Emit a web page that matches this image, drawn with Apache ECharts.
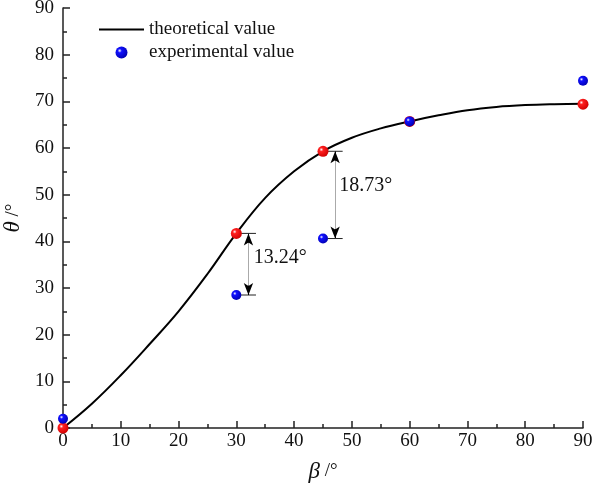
<!DOCTYPE html>
<html>
<head>
<meta charset="utf-8">
<script src="https://cdn.jsdelivr.net/npm/echarts@6/dist/echarts.min.js"></script>
<style>
  html, body { margin: 0; padding: 0; background: #fff; }
  #chart { width: 593px; height: 490px; }
</style>
</head>
<body>
<div id="chart"></div>
<script>
// theoretical curve (beta, theta)
const curveBeta  = [0, 5, 10, 15, 20, 25, 30, 35, 40, 45, 50, 55, 60, 65, 70, 75, 80, 85, 90]
const curveTheta = [0, 5.2, 11.3, 18.0, 25.0, 33.0, 41.7, 49.3, 55.0, 59.3, 62.2, 64.2, 65.7, 67.0, 68.1, 68.8, 69.2, 69.4, 69.5]
// theoretical points at the test angles
const testBeta = [0, 30, 45, 60, 90]
const theoryTheta = [0, 41.7, 59.3, 65.7, 69.4]
// measured
const expTheta = [2.0, 28.5, 40.6, 65.7, 74.4]
// difference annotations
const diffLabels = ['13.24°', '18.73°']
const diffBeta = [32.1, 47.1]
const diffTop = [41.7, 59.3]
const diffBottom = [28.5, 40.6]
const diffLabelPos = [[33.0, 36.5], [47.8, 51.9]]

const font = 'Liberation Serif'
const ink = '#111'

function ball (c1, c2) {
  return new echarts.graphic.RadialGradient(0.35, 0.35, 0.7, [
    { offset: 0, color: '#ffffff' },
    { offset: 0.25, color: c1 },
    { offset: 1, color: c2 }
  ])
}

const myChart = echarts.init(document.getElementById('chart'))

const annoSeries = []
diffLabels.forEach((lab, i) => {
  const x = diffBeta[i]
  const capStyle = { color: '#222', width: 1 }
  // caps
  annoSeries.push({
    type: 'line', silent: true, symbol: 'none', z: 1, lineStyle: capStyle,
    data: [[x - 1.3, diffTop[i]], [x + 1.3, diffTop[i]]]
  })
  annoSeries.push({
    type: 'line', silent: true, symbol: 'none', z: 1, lineStyle: capStyle,
    data: [[x - 1.3, diffBottom[i]], [x + 1.3, diffBottom[i]]]
  })
  // gray shaft + black arrow heads
  annoSeries.push({
    type: 'line', silent: true, symbol: 'none', z: 1,
    lineStyle: { width: 0 },
    data: [],
    markLine: {
      silent: true,
      animation: false,
      label: { show: false },
      data: [
        [{ coord: [x, diffTop[i]], symbol: 'none', lineStyle: { color: '#aaa', width: 1, type: 'solid' } },
         { coord: [x, diffBottom[i]], symbol: 'none' }],
        [{ coord: [x, diffTop[i] - 2], symbol: 'none', lineStyle: { color: '#000', width: 1, type: 'solid' } },
         { coord: [x, diffTop[i]], symbol: 'arrow', symbolSize: [7, 12] }],
        [{ coord: [x, diffBottom[i] + 2], symbol: 'none', lineStyle: { color: '#000', width: 1, type: 'solid' } },
         { coord: [x, diffBottom[i]], symbol: 'arrow', symbolSize: [7, 12] }]
      ]
    }
  })
  // label
  annoSeries.push({
    type: 'scatter', silent: true, symbolSize: 0, z: 1,
    itemStyle: { opacity: 1 },
    data: [diffLabelPos[i]],
    label: {
      show: true, position: 'right', distance: 0,
      formatter: lab, fontFamily: font, fontSize: 20, color: ink
    }
  })
})

const option = {
  animation: false,
  grid: { left: 63, right: 10, top: 8, bottom: 62, outerBoundsMode: 'none' },
  legend: {
    left: 99, top: 20, orient: 'vertical', padding: 0,
    itemGap: 4, itemWidth: 45, itemHeight: 12,
    textStyle: { fontFamily: font, fontSize: 19, color: ink },
    data: [
      { name: 'theoretical value', icon: 'path://M0,5L45,5L45,7L0,7Z' },
      { name: 'experimental value', icon: 'circle' }
    ]
  },
  xAxis: {
    type: 'value', min: 0, max: 90, interval: 10,
    name: '{i|β} /°', nameLocation: 'middle', nameGap: 32,
    nameTextStyle: {
      fontFamily: font, fontSize: 19, color: ink,
      rich: { i: { fontFamily: font, fontStyle: 'italic', fontSize: 23 } }
    },
    axisLine: { lineStyle: { color: '#222', width: 1.5 } },
    axisTick: { inside: true, length: 7, lineStyle: { color: '#222', width: 1.5 } },
    minorTick: { show: true, splitNumber: 2, length: 4, lineStyle: { color: '#222', width: 1.5 } },
    axisLabel: { fontFamily: font, fontSize: 19, color: ink, margin: 4 },
    splitLine: { show: false }
  },
  yAxis: {
    type: 'value', min: 0, max: 90, interval: 10,
    name: '{i|θ} /°', nameLocation: 'middle', nameGap: 36, nameRotate: 90,
    nameTextStyle: {
      fontFamily: font, fontSize: 19, color: ink,
      rich: { i: { fontFamily: font, fontStyle: 'italic', fontSize: 23 } }
    },
    axisLine: { lineStyle: { color: '#222', width: 1.5 } },
    axisTick: { inside: true, length: 7, lineStyle: { color: '#222', width: 1.5 } },
    minorTick: { show: true, splitNumber: 2, length: 4, lineStyle: { color: '#222', width: 1.5 } },
    axisLabel: { fontFamily: font, fontSize: 19, color: ink, margin: 9 },
    splitLine: { show: false }
  },
  series: [
    {
      name: 'theoretical value', type: 'line', smooth: 0.4, symbol: 'none', z: 2,
      color: '#000',
      lineStyle: { color: '#000', width: 2 },
      data: curveBeta.map((b, i) => [b, curveTheta[i]])
    },
    ...annoSeries,
    {
      name: 'theory points', type: 'scatter', symbolSize: 11, z: 3,
      itemStyle: { color: ball('#ff2020', '#d00000'), opacity: 1 },
      data: testBeta.map((b, i) => [b, theoryTheta[i]])
    },
    {
      name: 'experimental value', type: 'scatter', symbolSize: 10, z: 4,
      itemStyle: { color: ball('#1010ff', '#0000b0'), opacity: 1 },
      data: testBeta.map((b, i) => [b, expTheta[i]])
    }
  ]
}

myChart.setOption(option)
</script>
</body>
</html>
